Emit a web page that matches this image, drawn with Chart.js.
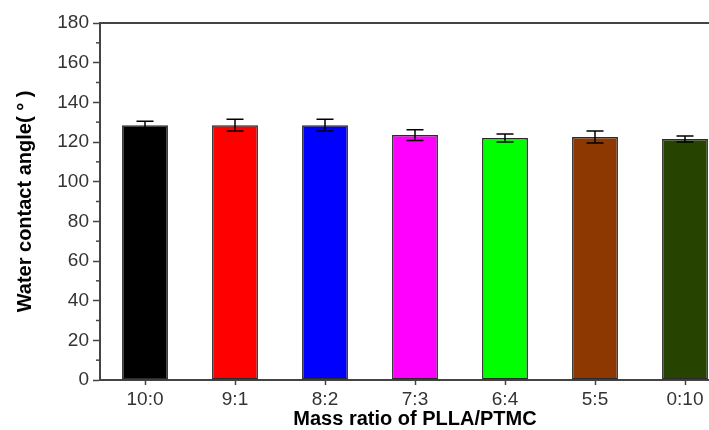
<!DOCTYPE html>
<html>
<head>
<meta charset="utf-8">
<script src="https://cdn.jsdelivr.net/npm/chart.js@4"></script>
<style>
  html, body { margin: 0; padding: 0; background: #fff; overflow: hidden; }
  canvas { display: block; }
</style>
</head>
<body>
<canvas id="chart" width="735" height="430"></canvas>
<script>
// Datos
const ratios = ['10:0', '9:1', '8:2', '7:3', '6:4', '5:5', '0:10'];
const angles = [128.5, 128.5, 128.5, 123.5, 122, 122.5, 121.5];
const errors = [2, 3, 3, 2.7, 2, 3, 1.5];
const barColors = ['#000000', '#ff0000', '#0000ff', '#ff00ff', '#00ff00', '#8d3800', '#264400'];

const axisColor = '#444';
const fontFamily = 'Arial, "Liberation Sans", sans-serif';

// Barras de error y ticks menores
const errorBars = {
  id: 'errorBars',
  afterDatasetsDraw(chart) {
    const ctx = chart.ctx;
    const meta = chart.getDatasetMeta(0);
    const y = chart.scales.y;
    ctx.save();
    ctx.strokeStyle = '#000';
    ctx.lineWidth = 1.5;
    meta.data.forEach((bar, i) => {
      const top = y.getPixelForValue(angles[i] + errors[i]);
      const bottom = y.getPixelForValue(angles[i] - errors[i]);
      const cap = 8.5;
      ctx.beginPath();
      ctx.moveTo(bar.x, top);
      ctx.lineTo(bar.x, bottom);
      ctx.moveTo(bar.x - cap, top);
      ctx.lineTo(bar.x + cap, top);
      ctx.moveTo(bar.x - cap, bottom);
      ctx.lineTo(bar.x + cap, bottom);
      ctx.stroke();
    });

    // ticks menores del eje y
    ctx.strokeStyle = axisColor;
    ctx.lineWidth = 1.5;
    for (let v = 10; v < 180; v += 20) {
      const py = y.getPixelForValue(v);
      ctx.beginPath();
      ctx.moveTo(y.right, py);
      ctx.lineTo(y.right - 4, py);
      ctx.stroke();
    }
    ctx.restore();
  }
};

new Chart(document.getElementById('chart'), {
  type: 'bar',
  data: {
    labels: ratios,
    datasets: [{
      data: angles,
      backgroundColor: barColors,
      borderColor: '#2a2a2a',
      borderWidth: 1.5,
      borderSkipped: false,
      barPercentage: 0.51,
      categoryPercentage: 1
    }]
  },
  options: {
    responsive: false,
    animation: false,
    devicePixelRatio: 1,
    layout: {
      padding: { top: 23, right: 5, left: 0, bottom: 0 }
    },
    plugins: {
      legend: { display: false },
      tooltip: { enabled: false }
    },
    scales: {
      x: {
        position: 'bottom',
        afterFit: (scale) => { scale.height = 50; },
        grid: {
          offset: false,
          drawOnChartArea: false,
          tickLength: 5,
          tickColor: axisColor,
          tickWidth: 1.5
        },
        border: { color: axisColor, width: 2 },
        ticks: {
          color: '#333',
          padding: 3,
          font: { family: fontFamily, size: 19 }
        },
        title: {
          display: true,
          text: 'Mass ratio of PLLA/PTMC',
          color: '#000',
          padding: { top: 0, bottom: -1 },
          font: { family: fontFamily, size: 20, weight: 'bold' }
        }
      },
      xTop: {
        position: 'top',
        afterFit: (scale) => { scale.height = 0; },
        grid: { drawOnChartArea: false, drawTicks: false },
        border: { color: axisColor, width: 2 },
        ticks: { display: false }
      },
      y: {
        min: 0,
        max: 180,
        afterFit: (scale) => { scale.width = 100; },
        grid: {
          drawOnChartArea: false,
          tickLength: 7,
          tickColor: axisColor,
          tickWidth: 1.5
        },
        border: { color: axisColor, width: 2 },
        ticks: {
          stepSize: 20,
          color: '#333',
          padding: 4,
          font: { family: fontFamily, size: 19 }
        },
        title: {
          display: true,
          text: 'Water contact angle( ° )',
          color: '#000',
          padding: { top: 13, bottom: 0 },
          font: { family: fontFamily, size: 20, weight: 'bold' }
        }
      }
    }
  },
  plugins: [errorBars]
});
</script>
</body>
</html>
